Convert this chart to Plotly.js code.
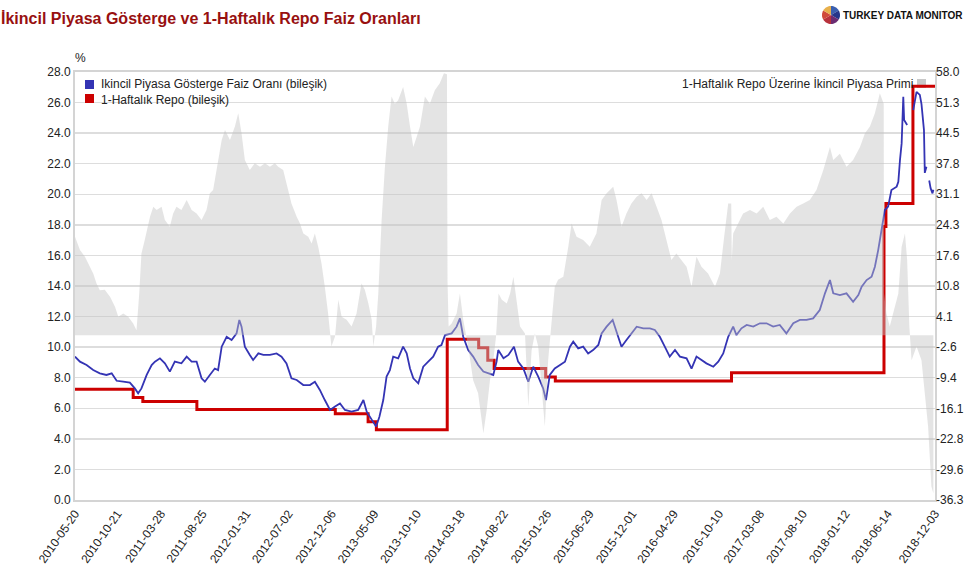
<!DOCTYPE html>
<html>
<head>
<meta charset="utf-8">
<script src="https://cdn.plot.ly/plotly-3.0.1.min.js"></script>
<style>
  html, body { margin: 0; padding: 0; background: #fff; }
  #chart { width: 970px; height: 570px; }
</style>
</head>
<body>
<div id="chart"></div>
<script>
// ---------------- DATA ----------------
const chartTitle = 'İkincil Piyasa Gösterge ve 1-Haftalık Repo Faiz Oranları';
const bondName = 'Ikincil Piyasa Gösterge Faiz Oranı (bileşik)';
const repoName = '1-Haftalık Repo (bileşik)';
const premiumName = '1-Haftalık Repo Üzerine İkincil Piyasa Primi';

const xTickLabels = ['2010-05-20','2010-10-21','2011-03-28','2011-08-25','2012-01-31','2012-07-02',
  '2012-12-06','2013-05-09','2013-10-10','2014-03-18','2014-08-22','2015-01-26','2015-06-29',
  '2015-12-01','2016-04-29','2016-10-10','2017-03-08','2017-08-10','2018-01-12','2018-06-14','2018-12-03'];
const leftTickLabels = ['0.0','2.0','4.0','6.0','8.0','10.0','12.0','14.0','16.0','18.0','20.0','22.0','24.0','26.0','28.0'];
const rightTickLabels = ['-36.3','-29.6','-22.8','-16.1','-9.4','-2.6','4.1','10.8','17.6','24.3','31.1','37.8','44.5','51.3','58.0'];

const bondDates = ['2010-05-20','2010-06-07','2010-07-01','2010-07-25','2010-08-18','2010-09-11','2010-09-30',
  '2010-10-18','2010-11-11','2010-12-05','2010-12-23','2011-01-04','2011-01-16','2011-02-04','2011-02-22',
  '2011-03-06','2011-03-24','2011-04-11','2011-04-29','2011-05-17','2011-06-10','2011-06-29','2011-07-17',
  '2011-08-04','2011-08-22','2011-09-03','2011-09-21','2011-10-09','2011-10-21','2011-11-03','2011-11-21',
  '2011-12-09','2011-12-27','2012-01-06','2012-01-14','2012-01-26','2012-02-13','2012-02-25','2012-03-15',
  '2012-04-02','2012-04-26','2012-05-20','2012-06-07','2012-06-25','2012-07-13','2012-08-01','2012-08-25',
  '2012-09-18','2012-10-06','2012-10-24','2012-11-11','2012-11-30','2012-12-18','2013-01-05','2013-01-23',
  '2013-02-16','2013-03-12','2013-03-31','2013-04-12','2013-04-30','2013-05-16','2013-05-28','2013-06-11',
  '2013-06-23','2013-07-05','2013-07-17','2013-08-04','2013-08-22','2013-09-04','2013-09-16','2013-09-28',
  '2013-10-16','2013-11-03','2013-11-21','2013-12-09','2013-12-27','2014-01-08','2014-01-21','2014-02-14',
  '2014-03-04','2014-03-16','2014-03-28','2014-04-15','2014-05-03','2014-05-21','2014-06-09','2014-06-27',
  '2014-07-15','2014-07-27','2014-08-02','2014-08-21','2014-09-08','2014-09-28','2014-10-13','2014-11-01',
  '2014-11-19','2014-12-07','2014-12-25','2015-01-12','2015-01-22','2015-02-05','2015-02-23','2015-03-14',
  '2015-04-01','2015-04-19','2015-05-01','2015-05-19','2015-06-06','2015-06-24','2015-07-12','2015-07-31',
  '2015-08-12','2015-08-30','2015-09-21','2015-10-05','2015-10-23','2015-11-10','2015-11-28','2015-12-17',
  '2016-01-10','2016-02-03','2016-02-21','2016-03-10','2016-03-28','2016-04-15','2016-05-04','2016-05-22',
  '2016-06-15','2016-07-03','2016-07-21','2016-08-08','2016-08-26','2016-09-20','2016-10-08','2016-10-26',
  '2016-11-13','2016-12-01','2016-12-13','2016-12-31','2017-01-19','2017-02-12','2017-03-08','2017-04-01',
  '2017-04-25','2017-05-19','2017-06-12','2017-07-07','2017-07-31','2017-08-24','2017-09-17','2017-10-11',
  '2017-10-30','2017-11-17','2017-11-29','2017-12-23','2018-01-16','2018-02-09','2018-02-28','2018-03-12',
  '2018-03-30','2018-04-17','2018-04-29','2018-05-11','2018-05-23','2018-06-04','2018-06-16','2018-06-28',
  '2018-07-17','2018-07-23','2018-07-29','2018-08-04','2018-08-10','2018-08-13','2018-08-24','2018-09-01',
  '2018-09-15','2018-09-27','2018-10-09','2018-10-15','2018-10-24','2018-10-27','2018-11-02','2018-11-07',
  '2018-11-12','2018-11-17','2018-11-24','2018-11-27'];
const bondValues = [9.38,9.05,8.83,8.5,8.29,8.18,8.29,
  7.8,7.74,7.68,7.3,6.98,7.3,8.18,8.83,
  9.05,9.27,8.94,8.4,9.05,8.94,9.38,9.05,
  9.05,7.96,7.74,8.18,8.6,8.5,10.03,10.68,
  10.47,10.9,11.78,11.34,10.03,9.49,9.16,9.59,
  9.49,9.49,9.59,9.38,8.94,7.96,7.85,7.52,
  7.52,7.74,7.2,6.54,5.89,6.11,6.32,5.89,
  5.78,5.89,6.54,5.78,5.23,4.8,5.45,6.54,
  8.07,8.5,9.38,9.27,10.03,9.59,8.6,7.96,
  7.63,8.72,9.05,9.38,10.03,10.14,10.79,10.9,
  11.34,11.88,10.68,9.81,9.38,8.83,8.4,8.29,
  8.18,9.05,9.81,9.27,9.49,10.03,9.05,8.6,
  7.74,8.72,8.07,7.3,6.54,8.18,8.6,8.83,
  9.05,10.03,10.36,9.92,10.03,9.59,9.81,10.14,
  10.9,11.34,11.78,11.01,10.03,10.47,10.9,11.34,
  11.23,11.23,11.12,10.68,10.03,9.38,9.81,9.38,
  9.27,8.6,9.38,9.16,8.94,8.72,9.05,9.59,
  10.68,11.34,10.79,11.23,11.45,11.34,11.56,11.56,
  11.34,11.45,10.9,11.56,11.78,11.78,11.88,12.43,
  13.52,14.39,13.52,13.41,13.52,12.97,13.41,13.96,
  14.39,14.61,15.26,16.35,17.66,18.97,19.19,20.28,
  20.5,20.82,22.24,23.33,26.38,24.86,24.53,null,
  25.5,26.7,26.5,25.9,24.2,21.4,21.8,null,
  20.9,20.4,20.06,20.3];

const repoDates = ['2010-05-20','2010-12-17','2011-01-21','2011-08-05','2012-12-19','2013-04-17','2013-05-17',
  '2014-01-29','2014-05-23','2014-06-25','2014-07-18','2015-01-21','2015-02-25','2016-11-25',
  '2018-06-01','2018-06-08','2018-09-14','2018-12-03'];
const repoValues = [7.25,6.71,6.45,5.92,5.65,5.12,4.60,
  10.51,9.96,9.14,8.60,8.05,7.78,8.32,
  17.90,19.39,27.07,27.07];

const premiumDates = ['2010-05-20','2010-06-07','2010-06-25','2010-07-13','2010-07-25','2010-08-06','2010-08-18',
  '2010-09-05','2010-09-24','2010-10-12','2010-10-24','2010-11-11','2010-11-29','2010-12-17','2010-12-29',
  '2011-01-08','2011-01-16','2011-01-28','2011-02-16','2011-02-28','2011-03-12','2011-03-30','2011-04-11',
  '2011-04-29','2011-05-11','2011-05-23','2011-06-10','2011-06-29','2011-07-17','2011-08-04','2011-08-22',
  '2011-09-09','2011-09-21','2011-10-03','2011-10-21','2011-11-03','2011-11-15','2011-12-03','2011-12-21',
  '2012-01-02','2012-01-14','2012-01-26','2012-02-13','2012-03-02','2012-03-21','2012-04-08','2012-04-26',
  '2012-05-14','2012-05-26','2012-06-13','2012-07-01','2012-07-13','2012-08-01','2012-08-13','2012-08-25',
  '2012-09-12','2012-09-24','2012-10-06','2012-10-18','2012-10-30','2012-11-11','2012-11-23','2012-12-05',
  '2012-12-18','2012-12-30','2013-01-11','2013-01-29','2013-02-16','2013-03-06','2013-03-24','2013-04-05',
  '2013-04-18','2013-04-30','2013-05-06','2013-05-16','2013-05-24','2013-06-05','2013-06-17','2013-06-29',
  '2013-07-11','2013-07-23','2013-08-04','2013-08-22','2013-09-04','2013-09-16','2013-09-28','2013-10-10',
  '2013-10-22','2013-11-09','2013-11-27','2013-12-15','2014-01-02','2014-01-17','2014-01-28','2014-01-30',
  '2014-02-03','2014-02-14','2014-03-04','2014-03-16','2014-03-28','2014-04-15','2014-05-03','2014-05-21',
  '2014-06-09','2014-06-21','2014-07-03','2014-07-15','2014-07-25','2014-08-03','2014-08-15','2014-09-02',
  '2014-09-14','2014-09-26','2014-10-08','2014-10-20','2014-11-07','2014-11-19','2014-12-01','2014-12-13',
  '2014-12-25','2015-01-06','2015-01-18','2015-01-30','2015-02-11','2015-02-23','2015-03-07','2015-03-26',
  '2015-04-13','2015-04-25','2015-05-13','2015-06-06','2015-06-30','2015-07-24','2015-08-12','2015-08-30',
  '2015-09-23','2015-10-05','2015-10-23','2015-11-10','2015-11-28','2015-12-17','2016-01-04','2016-01-22',
  '2016-02-09','2016-02-27','2016-03-16','2016-04-03','2016-04-21','2016-05-09','2016-05-28','2016-06-15',
  '2016-07-03','2016-07-21','2016-08-08','2016-09-01','2016-09-26','2016-10-14','2016-10-28','2016-11-13',
  '2016-11-24','2016-11-26','2016-12-01','2016-12-19','2017-01-06','2017-01-31','2017-02-24','2017-03-20',
  '2017-04-13','2017-05-07','2017-06-01','2017-06-25','2017-07-19','2017-08-12','2017-09-05','2017-09-29',
  '2017-10-24','2017-11-17','2017-11-29','2017-12-23','2018-01-16','2018-02-09','2018-03-06','2018-03-24',
  '2018-04-11','2018-04-29','2018-05-17','2018-05-31','2018-06-01','2018-06-10','2018-06-22','2018-07-04',
  '2018-07-23','2018-08-04','2018-08-16','2018-08-24','2018-09-01','2018-09-09','2018-09-27','2018-10-15',
  '2018-10-27','2018-11-08','2018-11-20','2018-11-27'];
const premiumValues = [21.7,18.8,17.3,15.1,13.6,11.4,9.9,
  10.0,8.5,6.3,4.1,4.8,4.1,2.6,1.1,
  9.2,18.0,21.0,26.1,28.3,27.6,28.3,25.4,
  23.9,26.8,28.3,27.6,29.8,27.6,26.8,25.4,
  27.6,31.3,32.0,38.6,43.0,45.2,43.0,46.0,
  48.9,44.5,38.6,36.4,37.9,37.1,37.9,37.1,
  37.9,37.1,36.4,32.0,29.0,26.1,24.6,22.4,
  21.7,20.2,22.4,19.5,15.8,10.7,4.8,-2.5,
  -0.3,7.8,4.1,3.4,1.9,4.8,11.4,10.0,
  7.0,3.4,-2.5,1.9,9.2,25.4,37.1,46.0,
  52.6,51.0,51.8,54.7,51.0,46.0,41.5,43.7,
  46.0,52.6,51.0,54.0,55.5,57.7,57.5,12.0,
  1.9,2.6,4.8,9.2,3.4,-2.5,-9.9,-12.8,
  -21.6,-16.5,-9.9,-5.5,-0.3,9.2,7.8,7.0,
  9.2,12.9,7.8,1.9,0.4,-15.7,-3.3,0.4,
  -2.5,-11.3,-20.1,-5.5,3.4,10.7,12.2,12.9,
  19.5,24.6,21.7,21.0,19.5,22.4,29.8,31.3,
  32.7,29.8,23.9,26.8,29.0,30.5,31.3,29.8,
  31.3,28.3,25.4,21.0,16.6,18.0,16.6,15.1,
  10.7,17.3,15.1,13.6,10.7,13.6,21.0,29.0,
  29.0,16.6,22.4,24.6,26.8,27.6,26.8,28.3,
  25.4,26.1,24.6,26.8,28.3,29.0,29.8,32.0,
  36.4,41.5,38.6,40.0,37.1,38.6,41.5,44.5,
  46.0,48.9,53.3,51.0,9.2,4.8,1.9,4.8,
  9.2,19.5,22.4,16.6,1.9,-5.5,-2.5,-5.5,
  -12.8,-20.1,-33.3,-34.8];

// ---------------- STYLE ----------------
const FONT = 'Liberation Sans, Arial, Helvetica, sans-serif';
const BLUE = '#3434b4';
const RED = '#cc0000';
const GREY_FILL = 'rgba(196,196,196,0.45)';
const GRID = '#dddddd';
const FRAME = '#d4d4d4';

const traces = [
  { type: 'scatter', mode: 'lines', x: repoDates, y: repoValues, name: repoName,
    line: { color: RED, width: 3, shape: 'hv' }, showlegend: false, hoverinfo: 'skip' },
  { type: 'scatter', mode: 'lines', x: bondDates, y: bondValues, name: bondName,
    line: { color: BLUE, width: 1.8 }, connectgaps: false, showlegend: false, hoverinfo: 'skip' },
  { type: 'scatter', mode: 'lines', x: premiumDates, y: premiumValues, name: premiumName, yaxis: 'y2',
    fill: 'tozeroy', fillcolor: GREY_FILL, line: { width: 0, color: 'rgba(0,0,0,0)' },
    showlegend: false, hoverinfo: 'skip' }
];

// pixel -> paper helpers (plot area: x 75..935, y 72..500)
const px = v => (v - 75) / 860;
const py = v => (500 - v) / 428;

// logo pie wedges (decorative)
const logoColors = ['#3a5fb0', '#25368a', '#6b2c72', '#b8323c', '#d04a3a', '#e8b04c'];
const logoShapes = [];
const R = 9;
for (let i = 0; i < logoColors.length; i++) {
  const a0 = Math.PI / 2 - i * (2 * Math.PI / logoColors.length);
  const a1 = a0 - 2 * Math.PI / logoColors.length;
  let p = 'M0,0';
  for (let k = 0; k <= 8; k++) {
    const a = a0 + (a1 - a0) * k / 8;
    p += ' L' + (R * Math.cos(a)).toFixed(2) + ',' + (R * Math.sin(a)).toFixed(2);
  }
  p += ' Z';
  logoShapes.push({ type: 'path', xref: 'paper', yref: 'paper', xsizemode: 'pixel', ysizemode: 'pixel',
    xanchor: px(831), yanchor: py(15), path: p,
    fillcolor: logoColors[i], line: { width: 0 }, layer: 'above' });
}

const legendFont = { family: FONT, size: 12, color: '#222' };

const layout = {
  width: 970, height: 570,
  margin: { l: 75, r: 35, t: 72, b: 70, pad: 0 },
  paper_bgcolor: '#ffffff', plot_bgcolor: '#ffffff',
  font: { family: FONT, size: 12, color: '#222' },
  title: { text: chartTitle, x: 0.001, xref: 'container', xanchor: 'left', y: 1 - 18 / 570, yanchor: 'middle',
    font: { family: FONT, size: 16, color: '#981010', weight: 'bold' } },
  showlegend: false,
  xaxis: {
    type: 'date', range: [xTickLabels[0], xTickLabels[xTickLabels.length - 1]],
    tickmode: 'array', tickvals: xTickLabels, ticktext: xTickLabels, tickangle: -55,
    showgrid: false, zeroline: false, showline: true, linecolor: FRAME, linewidth: 2, mirror: true,
    ticks: '', tickfont: { family: FONT, size: 12, color: '#222' }
  },
  yaxis: {
    range: [0, 28], tickmode: 'array', tickvals: leftTickLabels.map(Number), ticktext: leftTickLabels,
    showgrid: true, gridcolor: GRID, gridwidth: 1.5, zeroline: false,
    showline: true, linecolor: FRAME, linewidth: 2, mirror: true, ticks: '',
    tickfont: { family: FONT, size: 12, color: '#222' }
  },
  yaxis2: {
    overlaying: 'y', side: 'right', range: [-36.3, 58.0],
    tickmode: 'array', tickvals: rightTickLabels.map(Number), ticktext: rightTickLabels,
    showgrid: false, zeroline: false, showline: false, ticks: '',
    tickfont: { family: FONT, size: 12, color: '#222' }
  },
  annotations: [
    { text: '%', xref: 'paper', yref: 'paper', x: px(80), y: py(58), showarrow: false,
      xanchor: 'center', yanchor: 'middle', font: { family: FONT, size: 12, color: '#222' } },
    { text: bondName, xref: 'paper', yref: 'paper', x: px(99), y: py(84.5), showarrow: false,
      xanchor: 'left', yanchor: 'middle', font: legendFont },
    { text: repoName, xref: 'paper', yref: 'paper', x: px(99), y: py(99.5), showarrow: false,
      xanchor: 'left', yanchor: 'middle', font: legendFont },
    { text: premiumName, xref: 'paper', yref: 'paper', x: px(915), y: py(84.5),
      showarrow: false, xanchor: 'right', yanchor: 'middle', font: legendFont },
    { text: '<b>TURKEY DATA MONITOR</b>', xref: 'paper', yref: 'paper', x: px(841), y: py(15.5),
      showarrow: false, xanchor: 'left', yanchor: 'middle',
      font: { family: FONT, size: 10, color: '#111' } }
  ],
  shapes: [
    { type: 'rect', xref: 'paper', yref: 'paper', x0: px(85), x1: px(94), y0: py(89), y1: py(80),
      fillcolor: BLUE, line: { width: 0 }, layer: 'above' },
    { type: 'rect', xref: 'paper', yref: 'paper', x0: px(85), x1: px(94), y0: py(103), y1: py(94),
      fillcolor: RED, line: { width: 0 }, layer: 'above' },
    { type: 'rect', xref: 'paper', yref: 'paper', x0: px(917), x1: px(926), y0: py(88), y1: py(79),
      fillcolor: '#c8c8c8', line: { width: 0 }, layer: 'below' }
  ].concat(logoShapes)
};

Plotly.newPlot('chart', traces, layout, { staticPlot: true, displayModeBar: false });
</script>
</body>
</html>
